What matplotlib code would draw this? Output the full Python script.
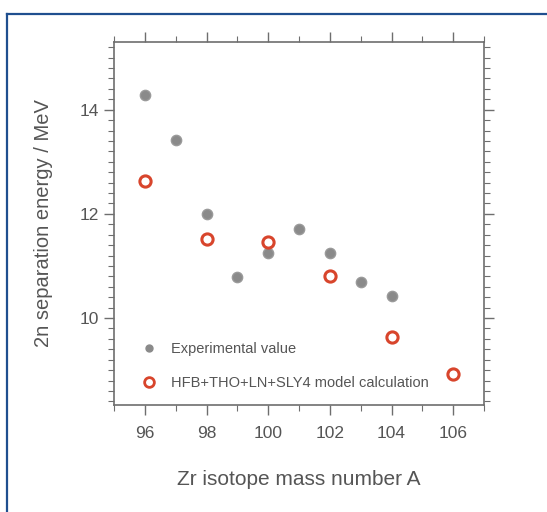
import matplotlib
matplotlib.use("Agg")
import matplotlib.pyplot as plt
from matplotlib.ticker import MultipleLocator
from matplotlib.lines import Line2D

plt.rcParams['font.family'] = ['Liberation Sans', 'DejaVu Sans']

exp_A = [96, 97, 98, 99, 100, 101, 102, 103, 104]
exp_S2n = [14.29, 13.42, 12.0, 10.79, 11.25, 11.71, 11.25, 10.69, 10.42]
model_A = [96, 98, 100, 102, 104, 106]
model_S2n = [12.63, 11.52, 11.46, 10.81, 9.63, 8.92]
x_ticks = [96, 98, 100, 102, 104, 106]
y_ticks = [10, 12, 14]

grey = '#8a8a8a'
red = '#d8452c'
txt = '#555555'
spine = '#6e6e6e'

fig = plt.figure(figsize=(5.47, 5.12), dpi=100)
# outer blue frame (left and top edges visible)
fig.add_artist(Line2D([7/547, 7/547], [1-14/512, -0.05], color='#1f4f8f', lw=1.6, transform=fig.transFigure))
fig.add_artist(Line2D([7/547, 1.05], [1-14/512, 1-14/512], color='#1f4f8f', lw=1.6, transform=fig.transFigure))

ax = fig.add_axes([114/547, 1-405/512, 370/547, 363/512])
ax.scatter(exp_A, exp_S2n, s=55, color=grey, edgecolors='#9a9a9a', zorder=3, label='Experimental value')
ax.scatter(model_A, model_S2n, s=65, facecolors='white', edgecolors=red, linewidths=2.2, zorder=4,
           label='HFB+THO+LN+SLY4 model calculation')

ax.set_xlim(95, 107)
ax.set_ylim(8.33, 15.3)
ax.set_xticks(x_ticks)
ax.set_yticks(y_ticks)
ax.xaxis.set_minor_locator(MultipleLocator(1))
ax.yaxis.set_minor_locator(MultipleLocator(0.2))
ax.tick_params(which='both', direction='out', top=True, right=True, color=spine,
               labelcolor=txt, labelsize=12.5)
ax.tick_params(which='major', length=7, width=1)
ax.tick_params(which='minor', length=4, width=0.8)
ax.tick_params(axis='x', pad=8)
ax.tick_params(axis='y', pad=4)
for s in ax.spines.values():
    s.set_color(spine)
    s.set_linewidth(1.2)

ax.set_xlabel('Zr isotope mass number A', fontsize=15, color=txt, labelpad=21)
ax.set_ylabel('2n separation energy / MeV', fontsize=14.5, color=txt, labelpad=19)

h1 = Line2D([], [], marker='o', ls='', color=grey, markersize=5)
h2 = Line2D([], [], marker='o', ls='', markerfacecolor='white', markeredgecolor=red, markeredgewidth=2, markersize=7)
leg = ax.legend([h1, h2], ['Experimental value', 'HFB+THO+LN+SLY4 model calculation'],
                loc='lower left', bbox_to_anchor=(0.04, 0.006), frameon=False, fontsize=10.5,
                handlelength=1.0, handletextpad=1.0, labelspacing=1.35)
for t in leg.get_texts():
    t.set_color(txt)

fig.savefig('out.png', dpi=100)
